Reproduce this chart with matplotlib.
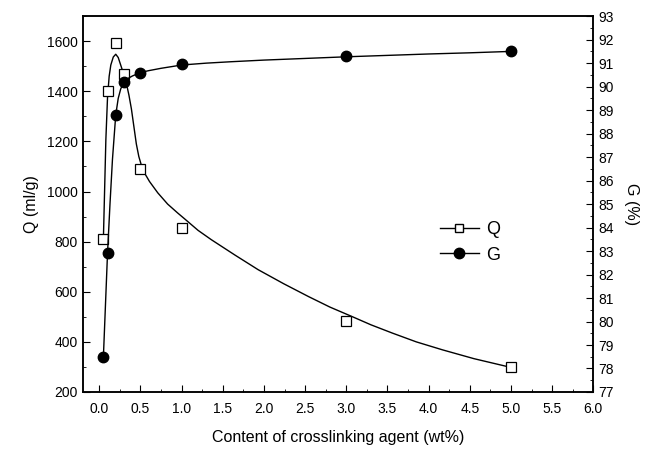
import numpy as np
import matplotlib.pyplot as plt
from matplotlib.ticker import MultipleLocator
from matplotlib.lines import Line2D

plt.rcParams['font.family'] = ['Liberation Sans', 'DejaVu Sans']

# measured points
content = [0.05, 0.1, 0.2, 0.3, 0.5, 1.0, 3.0, 5.0]
q_vals = [812, 1400, 1592, 1470, 1090, 855, 483, 300]
g_vals = [78.5, 82.9, 88.8, 90.2, 90.6, 90.95, 91.3, 91.5]

# fitted curves
q_curve_x = [0.05, 0.065, 0.08, 0.1, 0.12, 0.14, 0.17, 0.2, 0.23, 0.26, 0.3,
             0.33, 0.36, 0.39, 0.42, 0.45, 0.48, 0.52, 0.56, 0.61, 0.71, 0.83,
             0.95, 1.04, 1.2, 1.36, 1.65, 1.93, 2.24, 2.54, 2.8, 3.07, 3.3,
             3.56, 3.85, 4.17, 4.55, 5.0]
q_curve = [812, 1010, 1208, 1375, 1460, 1505, 1537, 1548, 1535, 1505, 1465,
           1430, 1385, 1330, 1260, 1190, 1140, 1095, 1068, 1040, 995, 950,
           915, 890, 845, 808, 746, 688, 632, 581, 539, 501, 468,
           435, 400, 368, 333, 298]

g_curve_x = [0.05, 0.075, 0.1, 0.13, 0.16, 0.2, 0.23, 0.26, 0.3, 0.35, 0.4,
             0.5, 0.6, 0.75, 1.0, 1.3, 1.6, 2.0, 2.5, 3.0, 3.5, 4.0, 4.5, 5.0]
g_curve = [78.5, 80.7, 82.9, 85.0, 86.9, 88.8, 89.5, 89.9, 90.2, 90.35, 90.45,
           90.6, 90.68, 90.78, 90.92, 91.0, 91.06, 91.13, 91.2, 91.27, 91.33,
           91.39, 91.44, 91.5]

fig = plt.figure(figsize=(6.47, 4.49), dpi=100)
ax = fig.add_axes([0.128, 0.127, 0.789, 0.837])
ax2 = ax.twinx()

ax.plot(q_curve_x, q_curve, color='black', lw=1.0)
ax.plot(content, q_vals, linestyle='none', marker='s', ms=6.5,
        mfc='white', mec='black', mew=0.9)
ax2.plot(g_curve_x, g_curve, color='black', lw=1.0)
ax2.plot(content, g_vals, linestyle='none', marker='o', ms=7.5,
         mfc='black', mec='black')

ax.set_xlim(-0.2, 6.0)
ax.set_ylim(200, 1700)
ax2.set_ylim(77, 93)

ax.xaxis.set_major_locator(MultipleLocator(0.5))
ax.xaxis.set_minor_locator(MultipleLocator(0.25))
ax.yaxis.set_major_locator(MultipleLocator(200))
ax.yaxis.set_minor_locator(MultipleLocator(100))
ax2.yaxis.set_major_locator(MultipleLocator(1))
ax2.yaxis.set_minor_locator(MultipleLocator(0.5))
ax.set_xticks(np.arange(0, 6.01, 0.5))
ax.set_yticks(np.arange(200, 1601, 200))

for a in (ax, ax2):
    a.tick_params(which='both', direction='in', labelsize=10)
    a.tick_params(which='major', length=5)
    a.tick_params(which='minor', length=2.5)
    for s in a.spines.values():
        s.set_linewidth(1.1)
ax.tick_params(axis='x', pad=7)

ax.set_xlabel('Content of crosslinking agent (wt%)', fontsize=11.5, labelpad=10)
ax.set_ylabel('Q (ml/g)', fontsize=11.5, labelpad=6)
ax2.set_ylabel('G (%)', fontsize=11.5, rotation=270, labelpad=18)

handles = [
    Line2D([], [], color='black', lw=1, marker='s', ms=6, mfc='white', mec='black'),
    Line2D([], [], color='black', lw=1, marker='o', ms=7.5, mfc='black'),
]
ax.legend(handles, ['Q', 'G'], loc='upper left', bbox_to_anchor=(0.667, 0.497),
          frameon=False, fontsize=13, handlelength=2.2, handletextpad=0.4,
          labelspacing=0.45)

fig.savefig('out.png', dpi=100)
